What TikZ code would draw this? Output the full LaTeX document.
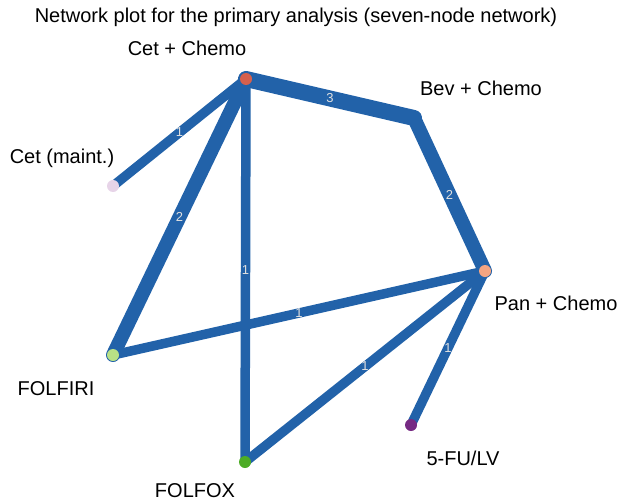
\documentclass[tikz,border=0pt]{standalone}
\usepackage{fontspec}
\setmainfont{Liberation Sans}
\usetikzlibrary{positioning,backgrounds}

\definecolor{linkblue}{HTML}{2262A9}
\definecolor{cetred}{HTML}{D6604D}
\definecolor{maintpink}{HTML}{E7D4E8}
\definecolor{panpeach}{HTML}{F4A582}
\definecolor{irigreen}{HTML}{B8E186}
\definecolor{fupurple}{HTML}{762A83}
\definecolor{oxgreen}{HTML}{4DAC26}

\tikzset{
  trt/.style={circle,inner sep=0pt,minimum size=12pt},
  lbl/.style={font=\fontsize{20}{24}\selectfont},
  link/.style={draw=linkblue,line width=#1,line cap=round},
  wt/.style={midway,text=white!88!black,font=\fontsize{13}{14}\selectfont,inner sep=0pt}
}

\begin{document}
\begin{tikzpicture}[x=1pt,y=-1pt]
  \useasboundingbox (0,0) rectangle (620,503);
  \node[lbl] (title) at (296,17) {Network plot for the primary analysis (seven-node network)};

  % treatments
  \node[trt,fill=cetred] (cet) at (246,79) {};
  \node[trt] (bev) at (414,118) {};
  \node[trt,fill=maintpink] (maint) at (113,186) {};
  \node[trt,fill=panpeach] (pan) at (485,271) {};
  \node[trt,fill=irigreen] (iri) at (113,355) {};
  \node[trt,fill=fupurple] (fu) at (411,425) {};
  \node[trt,fill=oxgreen] (ox) at (245,462) {};

  \node[lbl] (cetlab) at (187,48) {Cet + Chemo};
  \node[lbl] (bevlab) at (481,88) {Bev + Chemo};
  \node[lbl] (maintlab) at (62,158) {Cet (maint.)};
  \node[lbl] (panlab) at (556,303) {Pan + Chemo};
  \node[lbl] (irilab) at (56,389) {FOLFIRI};
  \node[lbl] (fulab) at (463,458) {5-FU/LV};
  \node[lbl] (oxlab) at (195,491) {FOLFOX};

  % comparisons
  \begin{scope}[on background layer]
    \draw[link=9.5pt] (cet.center) -- node[wt] {1} (maint.center);
    \draw[link=14pt] (cet.center) -- node[wt] {2} (iri.center);
    \draw[link=9.5pt] (cet.center) -- node[wt] {1} (ox.center);
    \draw[link=16pt] (cet.center) -- node[wt] {3} (bev.center);
    \draw[link=14pt] (bev.center) -- node[wt] {2} (pan.center);
    \draw[link=9.5pt] (iri.center) -- node[wt] {1} (pan.center);
    \draw[link=9.5pt] (ox.center) -- node[wt] {1} (pan.center);
    \draw[link=9.5pt] (fu.center) -- node[wt] {1} (pan.center);
  \end{scope}
\end{tikzpicture}
\end{document}
